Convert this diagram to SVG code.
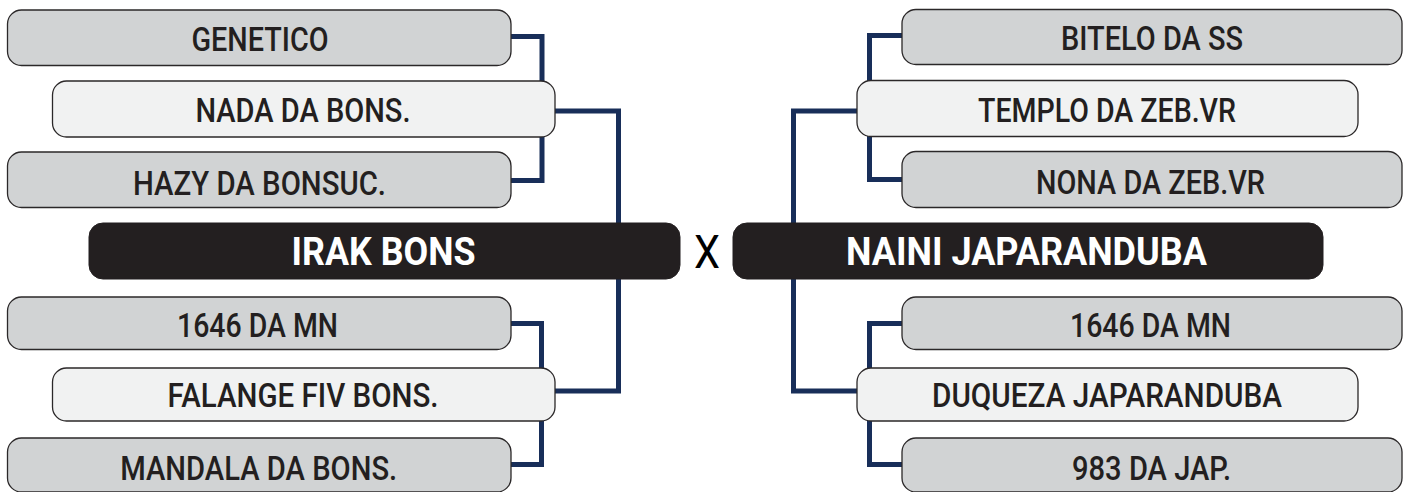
<svg xmlns="http://www.w3.org/2000/svg" width="1412" height="492" viewBox="0 0 1412 492">
<style>
.g{fill:#d1d3d4;stroke:#2b2829;stroke-width:1.3}
.l{fill:#f1f2f2;stroke:#2b2829;stroke-width:1.3}
.d{fill:#231f20;stroke:#231f20;stroke-width:1}
.t{font-family:Roboto,"Liberation Sans",sans-serif;font-size:34px;font-weight:500;fill:#231f20;text-anchor:middle}
.b{font-family:Roboto,"Liberation Sans",sans-serif;font-size:38px;font-weight:bold;fill:#ffffff;text-anchor:middle}
.c{fill:none;stroke:#182e59;stroke-width:5;stroke-linejoin:miter}
</style>
<rect width="1412" height="492" fill="#ffffff"/>
<g id="connectors" class="c">
<path d="M511 36.5H542V82"/>
<path d="M511 180.5H542V136"/>
<path d="M555 111H618.5V224"/>
<path d="M511 323.5H541.5V369"/>
<path d="M511 464.5H541.5V420"/>
<path d="M555 391H618.5V278"/>
<path d="M902 35.5H869.5V82"/>
<path d="M902 179.5H869.5V136"/>
<path d="M857 111H793.5V224"/>
<path d="M902 323.5H869.5V369"/>
<path d="M902 464.5H869.5V420"/>
<path d="M857 391H793.5V278"/>
</g>
<g id="genetico"><rect class="g" x="7.5" y="10" width="503.5" height="55.5" rx="14"/><text class="t" x="260" y="50.5" textLength="137" lengthAdjust="spacingAndGlyphs">GENETICO</text></g>
<g id="nada"><rect class="l" x="52.5" y="81" width="502.5" height="56" rx="14"/><text class="t" x="303" y="121.5" textLength="215" lengthAdjust="spacingAndGlyphs">NADA DA BONS.</text></g>
<g id="hazy"><rect class="g" x="7.5" y="152" width="503.5" height="55.5" rx="14"/><text class="t" x="259.5" y="194.5" textLength="253" lengthAdjust="spacingAndGlyphs">HAZY DA BONSUC.</text></g>
<g id="irak"><rect class="d" x="89" y="223" width="591" height="56" rx="14"/><text class="b" x="383.5" y="265" textLength="184" lengthAdjust="spacingAndGlyphs">IRAK BONS</text></g>
<g id="mn-left"><rect class="g" x="7.5" y="297" width="503.5" height="52.5" rx="14"/><text class="t" x="257.5" y="337" textLength="161" lengthAdjust="spacingAndGlyphs">1646 DA MN</text></g>
<g id="falange"><rect class="l" x="52.5" y="368" width="502.5" height="53" rx="14"/><text class="t" x="303" y="407" textLength="271" lengthAdjust="spacingAndGlyphs">FALANGE FIV BONS.</text></g>
<g id="mandala"><rect class="g" x="7.5" y="438" width="503.5" height="54" rx="14"/><text class="t" x="258.7" y="480" textLength="277" lengthAdjust="spacingAndGlyphs">MANDALA DA BONS.</text></g>
<g id="versus"><text x="707" y="268" font-family="Roboto,'Liberation Sans',sans-serif" font-size="46" font-weight="400" fill="#000000" text-anchor="middle" textLength="26" lengthAdjust="spacingAndGlyphs">X</text></g>
<g id="bitelo"><rect class="g" x="902" y="9.5" width="500" height="55" rx="14"/><text class="t" x="1152" y="50" textLength="182" lengthAdjust="spacingAndGlyphs">BITELO DA SS</text></g>
<g id="templo"><rect class="l" x="857" y="80.5" width="501" height="56" rx="14"/><text class="t" x="1107" y="121.5" textLength="258" lengthAdjust="spacingAndGlyphs">TEMPLO DA ZEB.VR</text></g>
<g id="nona"><rect class="g" x="902" y="151.5" width="500" height="56" rx="14"/><text class="t" x="1150.5" y="193.5" textLength="229" lengthAdjust="spacingAndGlyphs">NONA DA ZEB.VR</text></g>
<g id="naini"><rect class="d" x="733" y="223" width="590" height="56" rx="14"/><text class="b" x="1026.5" y="265" textLength="361" lengthAdjust="spacingAndGlyphs">NAINI JAPARANDUBA</text></g>
<g id="mn-right"><rect class="g" x="902" y="297" width="500" height="52.5" rx="14"/><text class="t" x="1150.5" y="337" textLength="161" lengthAdjust="spacingAndGlyphs">1646 DA MN</text></g>
<g id="duqueza"><rect class="l" x="857" y="368" width="501" height="53" rx="14"/><text class="t" x="1107" y="407" textLength="350" lengthAdjust="spacingAndGlyphs">DUQUEZA JAPARANDUBA</text></g>
<g id="jap983"><rect class="g" x="902" y="438" width="500" height="54" rx="14"/><text class="t" x="1151.5" y="480" textLength="159" lengthAdjust="spacingAndGlyphs">983 DA JAP.</text></g>
</svg>
